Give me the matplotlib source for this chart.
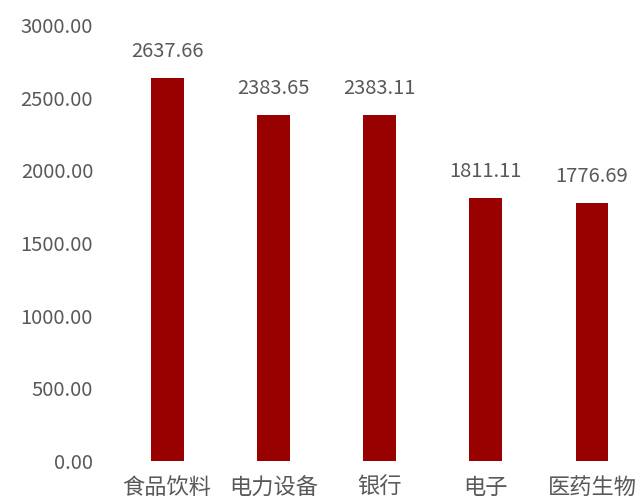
import matplotlib.pyplot as plt

plt.rcParams['font.family'] = ['Noto Sans CJK SC', 'DejaVu Sans']

industries = ['食品饮料', '电力设备', '银行', '电子', '医药生物']
values = [2637.66, 2383.65, 2383.11, 1811.11, 1776.69]
yticks = [0, 500, 1000, 1500, 2000, 2500, 3000]

text_color = '#595959'
bar_color = '#990000'

fig = plt.figure(figsize=(6.4, 5), dpi=100)
ax = fig.add_axes([0.178, 0.078, 0.83, 0.872])

x = range(len(industries))
ax.bar(x, values, width=0.31, color=bar_color)

# value labels above each bar
for xi, v in zip(x, values):
    ax.text(xi, v + 110, f'{v:.2f}', ha='center', va='bottom',
            fontsize=14.5, color=text_color, fontweight='light')

ax.set_xlim(-0.5, 4.5)
ax.set_ylim(0, 3000)
ax.set_yticks(yticks)
ax.set_yticklabels([f'{t:.2f}' for t in yticks], fontsize=14.5,
                   color=text_color, fontweight='light')
ax.set_xticks(list(x))
ax.set_xticklabels(industries, fontsize=16, color=text_color, fontweight='light')

for s in ax.spines.values():
    s.set_visible(False)
ax.tick_params(axis='both', length=0)
ax.tick_params(axis='y', pad=15)
ax.tick_params(axis='x', pad=11)

fig.savefig('out.png', dpi=100)
